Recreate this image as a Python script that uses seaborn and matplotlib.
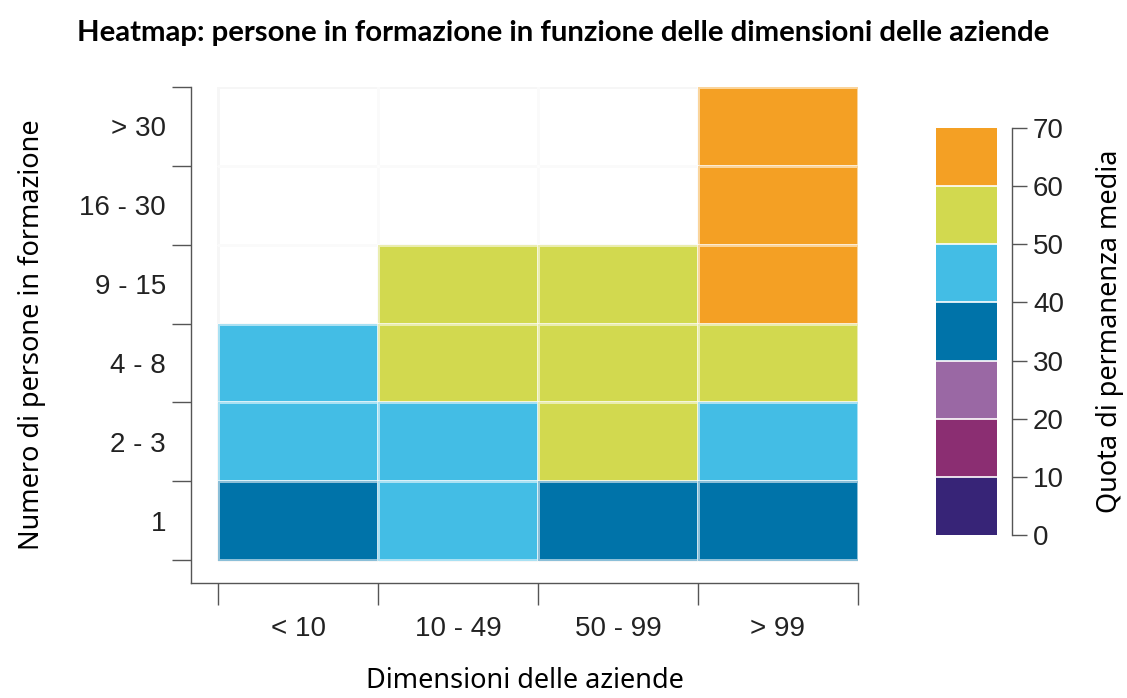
import numpy as np
import pandas as pd
import matplotlib
matplotlib.use("Agg")
import matplotlib.pyplot as plt
import seaborn as sns
from matplotlib.colors import ListedColormap, BoundaryNorm

# categories
company_sizes = ["< 10", "10 - 49", "50 - 99", "> 99"]
trainee_groups = ["> 30", "16 - 30", "9 - 15", "4 - 8", "2 - 3", "1"]

# average retention share per row (top to bottom), NaN = no data
row_gt30 = [np.nan, np.nan, np.nan, 64]
row_16_30 = [np.nan, np.nan, np.nan, 63]
row_9_15 = [np.nan, 54, 53, 62]
row_4_8 = [45, 55, 56, 54]
row_2_3 = [44, 46, 52, 45]
row_1 = [36, 43, 35, 37]

# colour scale
bin_edges = [0, 10, 20, 30, 40, 50, 60, 70]
bin_colors = ["#372477", "#8b2e72", "#9a68a4", "#0073a9",
              "#43bde5", "#d2d94f", "#f4a024"]

df = pd.DataFrame([row_gt30, row_16_30, row_9_15, row_4_8, row_2_3, row_1],
                  index=trainee_groups, columns=company_sizes)

sns.set_style("white")
plt.rcParams["font.family"] = ["Liberation Sans", "DejaVu Sans"]
label_font = "Noto Sans"
title_font = "Lato"
axis_grey = "#555555"
text_col = "#222222"

fig = plt.figure(figsize=(11.27, 6.98), dpi=100)
ax = fig.add_axes([0.1695, 0.1648, 0.5918, 0.7106])
cax = fig.add_axes([0.8305, 0.2335, 0.0541, 0.5831])

cmap = ListedColormap(bin_colors)
norm = BoundaryNorm(bin_edges, cmap.N)

# empty background grid for cells without data
sns.heatmap(df.notna() * 0, cmap=ListedColormap(["white"]), cbar=False,
            linewidths=1, linecolor="#ececec", ax=ax)
sns.heatmap(df, cmap=cmap, norm=norm, linewidths=1,
            linecolor=(1, 1, 1, 0.55), ax=ax, cbar_ax=cax,
            cbar_kws={"ticks": bin_edges, "drawedges": True})

n_rows, n_cols = df.shape
ax.set_xlim(-0.169, n_cols)
ax.set_ylim(n_rows + 0.29, 0)

for side in ["left", "bottom"]:
    ax.spines[side].set_visible(True)
    ax.spines[side].set_color(axis_grey)
    ax.spines[side].set_linewidth(1)
for side in ["top", "right"]:
    ax.spines[side].set_visible(False)

ax.set_xticks(np.arange(n_cols + 1))
ax.set_xticklabels([])
ax.set_xticks(np.arange(n_cols) + 0.5, minor=True)
ax.set_xticklabels(company_sizes, minor=True)
ax.set_yticks(np.arange(n_rows + 1))
ax.set_yticklabels([])
ax.set_yticks(np.arange(n_rows) + 0.5, minor=True)
ax.set_yticklabels(trainee_groups, minor=True, rotation=0)

ax.tick_params(axis="x", which="major", length=16, width=1, color=axis_grey,
               bottom=True)
ax.tick_params(axis="y", which="major", length=14, width=1, color=axis_grey,
               left=True)
ax.tick_params(axis="x", which="minor", length=0, pad=24, labelsize=20,
               labelcolor=text_col, bottom=True)
ax.tick_params(axis="y", which="minor", length=0, pad=18, labelsize=20,
               labelcolor=text_col, left=True)

ax.set_xlabel("Dimensioni delle aziende", fontsize=19.5, family=label_font,
              labelpad=18, color="black")
ax.set_ylabel("Numero di persone in formazione", fontsize=19.5,
              family=label_font, labelpad=24, color="black")

fig.suptitle("Heatmap: persone in formazione in funzione delle dimensioni delle aziende",
             x=0.5, y=0.972, fontsize=21.2, fontweight="bold", family=title_font,
             color="black")

# colorbar styling
cbar = ax.collections[-1].colorbar
cbar.outline.set_visible(False)
cbar.dividers.set_color("white")
cbar.dividers.set_linewidth(1.2)
cax.spines["right"].set_visible(True)
cax.spines["right"].set_position(("outward", 11))
cax.spines["right"].set_color(axis_grey)
cax.spines["right"].set_linewidth(1)
cax.tick_params(axis="y", length=11, width=1, color=axis_grey, labelsize=20,
                labelcolor=text_col, pad=4)
cax.set_ylabel("Quota di permanenza media", fontsize=19.5, family=label_font,
               labelpad=23, color="black")

fig.savefig("out.png", dpi=100)
